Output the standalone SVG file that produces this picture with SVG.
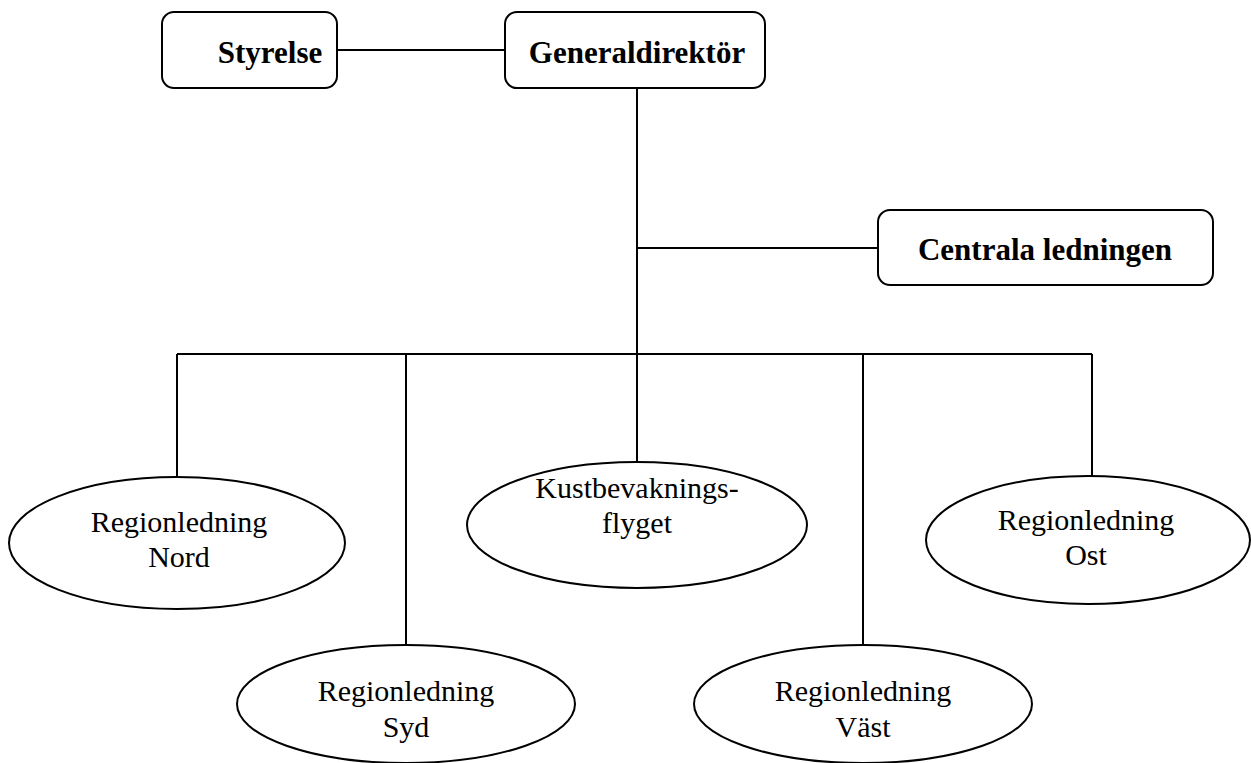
<svg xmlns="http://www.w3.org/2000/svg" width="1251" height="763" viewBox="0 0 1251 763">
<style>
.box{fill:#fff;stroke:#000;stroke-width:2}
.ell{fill:#fff;stroke:#000;stroke-width:2}
.con line{stroke:#000;stroke-width:2}
.b{font-family:"Liberation Serif","Times New Roman",serif;font-weight:bold;font-size:31px;text-anchor:middle;fill:#000}
.t{font-family:"Liberation Serif","Times New Roman",serif;font-size:30px;text-anchor:middle;fill:#000}
</style>
<rect width="1251" height="763" fill="#fff"/>
<g class="con">
<line x1="337" y1="50" x2="505" y2="50"/>
<line x1="637" y1="88" x2="637" y2="354"/>
<line x1="637" y1="248" x2="878" y2="248"/>
<line x1="177" y1="354" x2="1092" y2="354"/>
<line x1="177" y1="354" x2="177" y2="477"/>
<line x1="406" y1="354" x2="406" y2="645"/>
<line x1="637" y1="354" x2="637" y2="462"/>
<line x1="863" y1="354" x2="863" y2="645"/>
<line x1="1092" y1="354" x2="1092" y2="477"/>
</g>
<g id="styrelse"><rect class="box" x="162" y="12" width="175" height="76" rx="12"/><text class="b" x="270" y="63">Styrelse</text></g>
<g id="generaldirektor"><rect class="box" x="505" y="12" width="260" height="76" rx="12"/><text class="b" x="637" y="63">Generaldirektör</text></g>
<g id="centrala"><rect class="box" x="878" y="210" width="335" height="75" rx="12"/><text class="b" x="1045" y="260">Centrala ledningen</text></g>
<g id="nord"><ellipse class="ell" cx="177" cy="543" rx="168" ry="66"/><text class="t" x="179" y="532">Regionledning</text><text class="t" x="179" y="567">Nord</text></g>
<g id="kust"><ellipse class="ell" cx="637" cy="525" rx="170" ry="63"/><text class="t" x="637" y="498">Kustbevaknings-</text><text class="t" x="637" y="533">flyget</text></g>
<g id="ost"><ellipse class="ell" cx="1088" cy="540" rx="162" ry="64"/><text class="t" x="1086" y="530">Regionledning</text><text class="t" x="1086" y="565">Ost</text></g>
<g id="syd"><ellipse class="ell" cx="406" cy="704" rx="169" ry="59"/><text class="t" x="406" y="701">Regionledning</text><text class="t" x="406" y="737">Syd</text></g>
<g id="vast"><ellipse class="ell" cx="863" cy="704" rx="169" ry="59"/><text class="t" x="863" y="701">Regionledning</text><text class="t" x="863" y="737">Väst</text></g>
</svg>
